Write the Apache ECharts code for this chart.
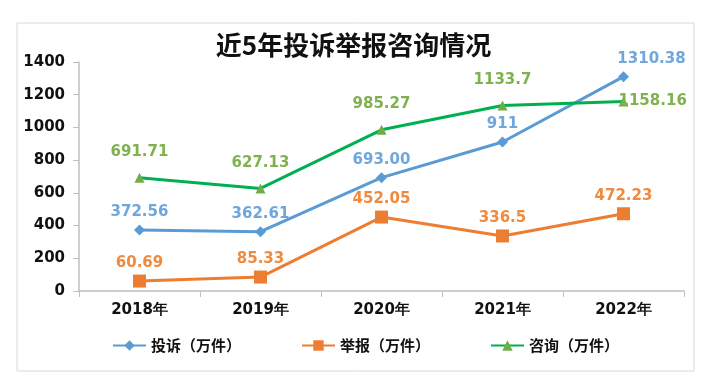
<!DOCTYPE html>
<html><head><meta charset="utf-8">
<script src="https://cdn.jsdelivr.net/npm/echarts@6/dist/echarts.min.js"></script>
<style>html,body{margin:0;padding:0;background:#fff}#c{width:707px;height:388px}</style>
</head><body><div id="c"></div>
<script>
const categories = ['2018年','2019年','2020年','2021年','2022年'];
const complaints = [372.56, 362.61, 693.00, 911, 1310.38];
const reports = [60.69, 85.33, 452.05, 336.5, 472.23];
const consults = [691.71, 627.13, 985.27, 1133.7, 1158.16];
const complaintLabels = ['372.56','362.61','693.00','911','1310.38'];
const reportLabels = ['60.69','85.33','452.05','336.5','472.23'];
const consultLabels = ['691.71','627.13','985.27','1133.7','1158.16'];
const seriesNames = ['投诉（万件）','举报（万件）','咨询（万件）'];
const yTicks = [0,200,400,600,800,1000,1200,1400];

const chart = echarts.init(document.getElementById('c'));
const lblFont = {fontFamily:'DejaVu Sans', fontWeight:'bold', fontSize:15};
function mk(name, data, labels, lineColor, markColor, labelColor, symbol, size, dist){
  return {
    name, type:'line', data, symbol, symbolSize:size,
    lineStyle:{color:lineColor, width:3},
    itemStyle:{color:markColor},
    label:{show:true, position:'top', distance:dist, color:labelColor, ...lblFont,
      formatter:p=>labels[p.dataIndex]},
    z: 3
  };
}
const s1 = mk(seriesNames[0], complaints, complaintLabels, '#5B9BD5', '#5B9BD5', '#6FA6DB', 'diamond', 11, 5);
s1.data = complaints.map((v,i)=> i===4 ? {value:v, label:{offset:[28,0]}} : v);
const s2 = mk(seriesNames[1], reports, reportLabels, '#ED7D31', '#ED7D31', '#F08A3E', 'rect', 13, 4);
const s3 = mk(seriesNames[2], consults, consultLabels, '#00B050', '#70AD47', '#7FB24E', 'triangle', 10, 13);
s3.data = consults.map((v,i)=> i===4 ? {value:v, label:{position:'right', distance:-10}} : v);
chart.setOption({
  animation:false,
  graphic:[{type:'rect', shape:{x:17,y:23,width:677,height:348}, style:{fill:'none', stroke:'#d9d9d9', lineWidth:1}, z:-1}],
  title:{text:'近5年投诉举报咨询情况', left:'center', top:27,
    textStyle:{fontFamily:'Noto Sans CJK SC', fontWeight:'bold', fontSize:26, color:'#111'}},
  grid:{left:79, right:23, top:62, bottom:97},
  legend:{data:seriesNames, top:333, left:107, itemGap:60, itemWidth:33, itemHeight:13,
    textStyle:{fontFamily:'Noto Sans CJK SC', fontWeight:'bold', fontSize:15, color:'#111'}},
  xAxis:{type:'category', data:categories, boundaryGap:true,
    axisLine:{lineStyle:{color:'#bfbfbf', width:1.5}},
    axisTick:{show:true, length:6, lineStyle:{color:'#bfbfbf'}},
    axisLabel:{color:'#111', fontFamily:'DejaVu Sans', fontWeight:'bold', fontSize:15, margin:12}},
  yAxis:{type:'value', min:yTicks[0], max:yTicks[yTicks.length-1], interval:yTicks[1]-yTicks[0],
    splitLine:{show:false},
    axisLine:{show:true, lineStyle:{color:'#bfbfbf', width:1.5}},
    axisTick:{show:true, length:6, lineStyle:{color:'#bfbfbf'}},
    axisLabel:{color:'#111', fontFamily:'DejaVu Sans', fontWeight:'bold', fontSize:15, margin:14,
      formatter:v=>String(v)}},
  series:[s1, s2, s3]
});
</script></body></html>
